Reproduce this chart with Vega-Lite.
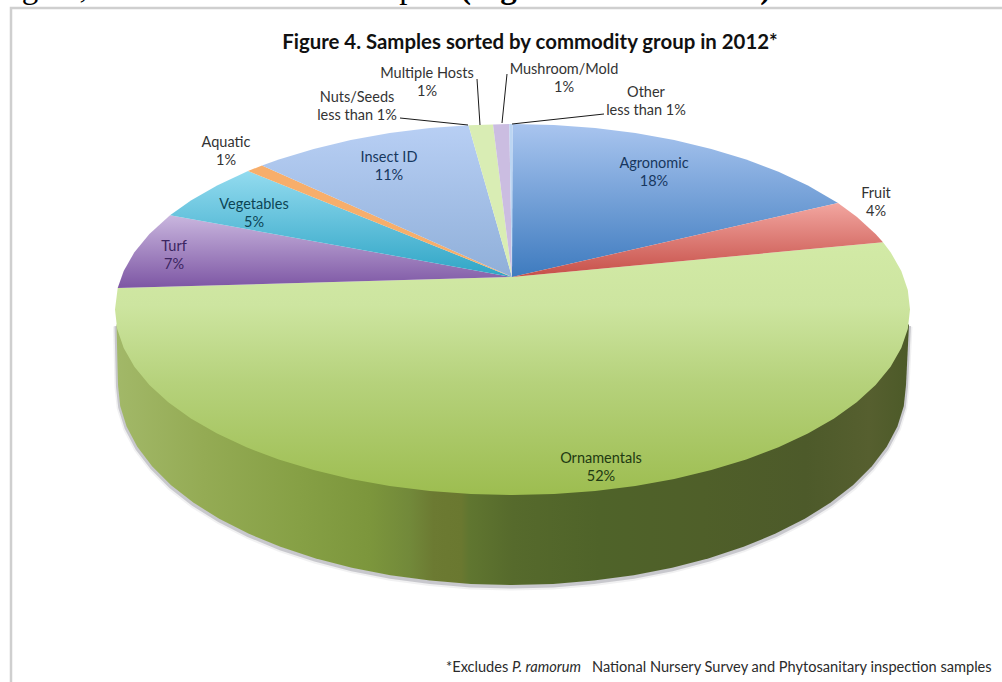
{
"$schema":"https://vega.github.io/schema/vega-lite/v6.json",
"width":1002,"height":682,"padding":0,"autosize":{"type":"none"},
"background":"#ffffff",
"view":{"stroke":null},
"datasets":{
"rim":[
{"i":0,"x":-396,"y":-15},{"i":1,"x":-394.5,"y":-75.5},{"i":2,"x":-392.3,"y":-96.4},{"i":3,"x":-385.9,"y":-117.1},{"i":4,"x":-375.2,"y":-137.3},{"i":5,"x":-360.4,"y":-156.8},{"i":6,"x":-341.7,"y":-175.5},{"i":7,"x":-319.2,"y":-193.1},{"i":8,"x":-293.3,"y":-209.3},{"i":9,"x":-264.1,"y":-224.1},{"i":10,"x":-232.1,"y":-237.3},{"i":11,"x":-197.5,"y":-248.7},{"i":12,"x":-160.7,"y":-258.2},{"i":13,"x":-122.2,"y":-265.7},{"i":14,"x":-82.4,"y":-271.1},{"i":15,"x":-41.7,"y":-274.4},{"i":16,"x":-0.5,"y":-275.5},{"i":17,"x":40.7,"y":-274.4},{"i":18,"x":81.4,"y":-271.1},{"i":19,"x":121.2,"y":-265.7},{"i":20,"x":159.7,"y":-258.2},{"i":21,"x":196.5,"y":-248.7},{"i":22,"x":231.1,"y":-237.3},{"i":23,"x":263.1,"y":-224.1},{"i":24,"x":292.3,"y":-209.3},{"i":25,"x":318.2,"y":-193.1},{"i":26,"x":340.7,"y":-175.5},{"i":27,"x":359.4,"y":-156.8},{"i":28,"x":374.2,"y":-137.3},{"i":29,"x":384.9,"y":-117.1},{"i":30,"x":391.3,"y":-96.4},{"i":31,"x":393.5,"y":-75.5},{"i":32,"x":396.5,"y":-15}
],
"slices":[
{"slice":"Ornamentals","i":0,"x":-0.5,"y":32.5},{"slice":"Ornamentals","i":1,"x":-394.8,"y":21.5},{"slice":"Ornamentals","i":2,"x":-397.5,"y":0},{"slice":"Ornamentals","i":3,"x":-395.3,"y":-19.4},{"slice":"Ornamentals","i":4,"x":-388.8,"y":-38.6},{"slice":"Ornamentals","i":5,"x":-378.1,"y":-57.3},{"slice":"Ornamentals","i":6,"x":-363.1,"y":-75.4},{"slice":"Ornamentals","i":7,"x":-344.2,"y":-92.7},{"slice":"Ornamentals","i":8,"x":-321.6,"y":-109},{"slice":"Ornamentals","i":9,"x":-295.4,"y":-124.1},{"slice":"Ornamentals","i":10,"x":-266,"y":-137.8},{"slice":"Ornamentals","i":11,"x":-233.7,"y":-150.1},{"slice":"Ornamentals","i":12,"x":-198.8,"y":-160.6},{"slice":"Ornamentals","i":13,"x":-161.7,"y":-169.5},{"slice":"Ornamentals","i":14,"x":-122.8,"y":-176.4},{"slice":"Ornamentals","i":15,"x":-82.6,"y":-181.4},{"slice":"Ornamentals","i":16,"x":-41.5,"y":-184.5},{"slice":"Ornamentals","i":17,"x":0,"y":-185.5},{"slice":"Ornamentals","i":18,"x":41.5,"y":-184.5},{"slice":"Ornamentals","i":19,"x":82.6,"y":-181.4},{"slice":"Ornamentals","i":20,"x":122.8,"y":-176.4},{"slice":"Ornamentals","i":21,"x":161.7,"y":-169.5},{"slice":"Ornamentals","i":22,"x":198.8,"y":-160.6},{"slice":"Ornamentals","i":23,"x":233.7,"y":-150.1},{"slice":"Ornamentals","i":24,"x":266,"y":-137.8},{"slice":"Ornamentals","i":25,"x":295.4,"y":-124.1},{"slice":"Ornamentals","i":26,"x":321.6,"y":-109},{"slice":"Ornamentals","i":27,"x":344.2,"y":-92.7},{"slice":"Ornamentals","i":28,"x":363.1,"y":-75.4},{"slice":"Ornamentals","i":29,"x":378.1,"y":-57.3},{"slice":"Ornamentals","i":30,"x":388.8,"y":-38.6},{"slice":"Ornamentals","i":31,"x":395.3,"y":-19.4},{"slice":"Ornamentals","i":32,"x":397.5,"y":0},{"slice":"Ornamentals","i":33,"x":395.3,"y":19.4},{"slice":"Ornamentals","i":34,"x":388.8,"y":38.6},{"slice":"Ornamentals","i":35,"x":378.1,"y":57.3},{"slice":"Ornamentals","i":36,"x":370.5,"y":67.2},{"slice":"Ornamentals","i":37,"x":-0.5,"y":32.5},
{"slice":"Agronomic","i":0,"x":-0.5,"y":32.5},{"slice":"Agronomic","i":1,"x":325.5,"y":106.5},{"slice":"Agronomic","i":2,"x":295.4,"y":124.1},{"slice":"Agronomic","i":3,"x":266,"y":137.8},{"slice":"Agronomic","i":4,"x":233.7,"y":150.1},{"slice":"Agronomic","i":5,"x":198.8,"y":160.6},{"slice":"Agronomic","i":6,"x":161.7,"y":169.5},{"slice":"Agronomic","i":7,"x":122.8,"y":176.4},{"slice":"Agronomic","i":8,"x":82.6,"y":181.4},{"slice":"Agronomic","i":9,"x":41.5,"y":184.5},{"slice":"Agronomic","i":10,"x":0,"y":185.5},{"slice":"Agronomic","i":11,"x":-0.5,"y":32.5},
{"slice":"Fruit","i":0,"x":-0.5,"y":32.5},{"slice":"Fruit","i":1,"x":370.5,"y":67.2},{"slice":"Fruit","i":2,"x":363.1,"y":75.4},{"slice":"Fruit","i":3,"x":344.2,"y":92.7},{"slice":"Fruit","i":4,"x":325.5,"y":106.5},{"slice":"Fruit","i":5,"x":-0.5,"y":32.5},
{"slice":"Other","i":0,"x":-0.5,"y":32.5},{"slice":"Other","i":1,"x":0,"y":185.5},{"slice":"Other","i":2,"x":-3.2,"y":185.5},{"slice":"Other","i":3,"x":-0.5,"y":32.5},
{"slice":"Mushroom/Mold","i":0,"x":-0.5,"y":32.5},{"slice":"Mushroom/Mold","i":1,"x":-3.2,"y":185.5},{"slice":"Mushroom/Mold","i":2,"x":-19.5,"y":185},{"slice":"Mushroom/Mold","i":3,"x":-0.5,"y":32.5},
{"slice":"Multiple Hosts","i":0,"x":-0.5,"y":32.5},{"slice":"Multiple Hosts","i":1,"x":-19.5,"y":185},{"slice":"Multiple Hosts","i":2,"x":-44,"y":184.3},{"slice":"Multiple Hosts","i":3,"x":-0.5,"y":32.5},
{"slice":"Insect ID","i":0,"x":-0.5,"y":32.5},{"slice":"Insect ID","i":1,"x":-44,"y":184.3},{"slice":"Insect ID","i":2,"x":-82.6,"y":181.4},{"slice":"Insect ID","i":3,"x":-122.8,"y":176.4},{"slice":"Insect ID","i":4,"x":-161.7,"y":169.5},{"slice":"Insect ID","i":5,"x":-198.8,"y":160.6},{"slice":"Insect ID","i":6,"x":-233.7,"y":150.1},{"slice":"Insect ID","i":7,"x":-250.5,"y":144},{"slice":"Insect ID","i":8,"x":-0.5,"y":32.5},
{"slice":"Aquatic","i":0,"x":-0.5,"y":32.5},{"slice":"Aquatic","i":1,"x":-250.5,"y":144},{"slice":"Aquatic","i":2,"x":-264.5,"y":138.5},{"slice":"Aquatic","i":3,"x":-0.5,"y":32.5},
{"slice":"Vegetables","i":0,"x":-0.5,"y":32.5},{"slice":"Vegetables","i":1,"x":-264.5,"y":138.5},{"slice":"Vegetables","i":2,"x":-295.4,"y":124.1},{"slice":"Vegetables","i":3,"x":-321.6,"y":109},{"slice":"Vegetables","i":4,"x":-342.5,"y":94.2},{"slice":"Vegetables","i":5,"x":-0.5,"y":32.5},
{"slice":"Turf","i":0,"x":-0.5,"y":32.5},{"slice":"Turf","i":1,"x":-342.5,"y":94.2},{"slice":"Turf","i":2,"x":-363.1,"y":75.4},{"slice":"Turf","i":3,"x":-378.1,"y":57.3},{"slice":"Turf","i":4,"x":-388.8,"y":38.6},{"slice":"Turf","i":5,"x":-394.8,"y":21.5},{"slice":"Turf","i":6,"x":-0.5,"y":32.5}
],
"leaders":[
{"leader":"Nuts/Seeds","i":0,"x":-112.5,"y":191.5},{"leader":"Nuts/Seeds","i":1,"x":-44.5,"y":184.5},
{"leader":"Multiple Hosts","i":0,"x":-35.5,"y":230.5},{"leader":"Multiple Hosts","i":1,"x":-32.5,"y":184.5},
{"leader":"Mushroom/Mold","i":0,"x":-5.5,"y":235.5},{"leader":"Mushroom/Mold","i":1,"x":-10.5,"y":186.5},
{"leader":"Other","i":0,"x":91.5,"y":195.5},{"leader":"Other","i":1,"x":-0.5,"y":185.5}
],
"frame":[
{"i":0,"x":-501.5,"y":-372.5},{"i":1,"x":-501.5,"y":301.5},{"i":2,"x":489.5,"y":301.5}
],
"labels":[
{"name":"Agronomic","text":"Agronomic\n18%","x":141.5,"y":146},
{"name":"Fruit","text":"Fruit\n4%","x":363.5,"y":116},
{"name":"Ornamentals","text":"Ornamentals\n52%","x":88.5,"y":-149},
{"name":"Turf","text":"Turf\n7%","x":-338.5,"y":62.5},
{"name":"Vegetables","text":"Vegetables\n5%","x":-258.5,"y":105},
{"name":"Aquatic","text":"Aquatic\n1%","x":-286.5,"y":167},
{"name":"Insect ID","text":"Insect ID\n11%","x":-123.5,"y":152},
{"name":"Nuts/Seeds","text":"Nuts/Seeds\nless than 1%","x":-155.5,"y":212},
{"name":"Multiple Hosts","text":"Multiple Hosts\n1%","x":-85.5,"y":235.5},
{"name":"Mushroom/Mold","text":"Mushroom/Mold\n1%","x":51.5,"y":240},
{"name":"Other","text":"Other\nless than 1%","x":133.5,"y":217}
]
},
"encoding":{
"x":{"field":"x","type":"quantitative","axis":null,"scale":{"domain":[-512.5,489.5],"nice":false,"zero":false}},
"y":{"field":"y","type":"quantitative","axis":null,"scale":{"domain":[-372.5,309.5],"nice":false,"zero":false}}
},
"layer":[
{"data":{"name":"frame"},"mark":{"type":"line","stroke":"#cfcfcf","strokeWidth":2.5,"fill":null},"encoding":{"order":{"field":"i"}}},
{"data":{"name":"rim"},"mark":{"type":"line","stroke":"#8c8c96","strokeWidth":7,"strokeOpacity":0.12,"fill":null,"yOffset":2},"encoding":{"order":{"field":"i"}}},
{"data":{"name":"rim"},"mark":{"type":"line","stroke":"#8c8c96","strokeWidth":4,"strokeOpacity":0.4,"fill":null,"yOffset":1.5},"encoding":{"order":{"field":"i"}}},
{"data":{"name":"rim"},"mark":{"type":"line","strokeWidth":0,"stroke":null,"fill":{"gradient":"linear","x1":0,"y1":0,"x2":1,"y2":0,"stops":[{"offset":0,"color":"#a2b868"},{"offset":0.11,"color":"#94ab54"},{"offset":0.23,"color":"#86a045"},{"offset":0.32,"color":"#7c963c"},{"offset":0.37,"color":"#72893a"},{"offset":0.4,"color":"#6c7a32"},{"offset":0.435,"color":"#6a7830"},{"offset":0.445,"color":"#607630"},{"offset":0.5,"color":"#566a2c"},{"offset":0.61,"color":"#4f6329"},{"offset":0.74,"color":"#4f5f29"},{"offset":0.87,"color":"#4d5a2a"},{"offset":0.95,"color":"#565f2f"},{"offset":1,"color":"#4c5a28"}]}},"encoding":{"order":{"field":"i"}}},
{"data":{"name":"slices"},"transform":[{"filter":"datum.slice==='Ornamentals'"}],"mark":{"type":"line","strokeWidth":0,"stroke":null,"fill":{"gradient":"linear","x1":0,"y1":0,"x2":0,"y2":1,"stops":[{"offset":0,"color":"#d2eaa6"},{"offset":0.25,"color":"#cde5a0"},{"offset":0.55,"color":"#b6d27c"},{"offset":1,"color":"#9dbd50"}]}},"encoding":{"order":{"field":"i"}}},
{"data":{"name":"slices"},"transform":[{"filter":"datum.slice==='Agronomic'"}],"mark":{"type":"line","strokeWidth":0,"stroke":null,"fill":{"gradient":"linear","x1":0,"y1":0,"x2":0,"y2":1,"stops":[{"offset":0,"color":"#a9c5ef"},{"offset":1,"color":"#3e7bbf"}]}},"encoding":{"order":{"field":"i"}}},
{"data":{"name":"slices"},"transform":[{"filter":"datum.slice==='Fruit'"}],"mark":{"type":"line","strokeWidth":0,"stroke":null,"fill":{"gradient":"linear","x1":0,"y1":0,"x2":0,"y2":1,"stops":[{"offset":0,"color":"#f2a6a0"},{"offset":1,"color":"#c64f48"}]}},"encoding":{"order":{"field":"i"}}},
{"data":{"name":"slices"},"transform":[{"filter":"datum.slice==='Turf'"}],"mark":{"type":"line","strokeWidth":0,"stroke":null,"fill":{"gradient":"linear","x1":0,"y1":0,"x2":0,"y2":1,"stops":[{"offset":0,"color":"#c9b6de"},{"offset":1,"color":"#7d56a4"}]}},"encoding":{"order":{"field":"i"}}},
{"data":{"name":"slices"},"transform":[{"filter":"datum.slice==='Vegetables'"}],"mark":{"type":"line","strokeWidth":0,"stroke":null,"fill":{"gradient":"linear","x1":0,"y1":0,"x2":0,"y2":1,"stops":[{"offset":0,"color":"#93dbef"},{"offset":1,"color":"#2fa5c6"}]}},"encoding":{"order":{"field":"i"}}},
{"data":{"name":"slices"},"transform":[{"filter":"datum.slice==='Aquatic'"}],"mark":{"type":"line","strokeWidth":0,"stroke":null,"fill":"#f7ae6b"},"encoding":{"order":{"field":"i"}}},
{"data":{"name":"slices"},"transform":[{"filter":"datum.slice==='Insect ID'"}],"mark":{"type":"line","strokeWidth":0,"stroke":null,"fill":{"gradient":"linear","x1":0,"y1":0,"x2":0,"y2":1,"stops":[{"offset":0,"color":"#b8cff4"},{"offset":1,"color":"#8fafd9"}]}},"encoding":{"order":{"field":"i"}}},
{"data":{"name":"slices"},"transform":[{"filter":"datum.slice==='Multiple Hosts'"}],"mark":{"type":"line","strokeWidth":0,"stroke":null,"fill":"#d9edb4"},"encoding":{"order":{"field":"i"}}},
{"data":{"name":"slices"},"transform":[{"filter":"datum.slice==='Mushroom/Mold'"}],"mark":{"type":"line","strokeWidth":0,"stroke":null,"fill":"#cbbde1"},"encoding":{"order":{"field":"i"}}},
{"data":{"name":"slices"},"transform":[{"filter":"datum.slice==='Other'"}],"mark":{"type":"line","strokeWidth":0,"stroke":null,"fill":"#bcd6f3"},"encoding":{"order":{"field":"i"}}},
{"data":{"name":"leaders"},"mark":{"type":"line","stroke":"#1a1a1a","strokeWidth":1,"fill":null},"encoding":{"detail":{"field":"leader"},"order":{"field":"i"}}},
{"data":{"name":"labels"},"mark":{"type":"text","font":"Lato","fontSize":14.5,"lineBreak":"\n","lineHeight":18.3,"align":"center","baseline":"middle"},"encoding":{"text":{"field":"text"},"color":{"field":"name","legend":null,"scale":{"domain":["Agronomic","Fruit","Ornamentals","Turf","Vegetables","Aquatic","Insect ID","Nuts/Seeds","Multiple Hosts","Mushroom/Mold","Other"],"range":["#17375e","#333333","#1f3a12","#3b2560","#0c4454","#333333","#17375e","#333333","#333333","#333333","#333333"]}}}},
{"data":{"values":[{"text":"Figure 4. Samples sorted by commodity group in 2012*","x":17.5,"y":266.5}]},"mark":{"type":"text","font":"Lato","fontSize":20.4,"fontWeight":"bold","color":"#111111","align":"center","baseline":"middle"},"encoding":{"text":{"field":"text"}}},
{"data":{"values":[{"text":"*Excludes","x":-66.5,"y":-358.5},{"text":"National Nursery Survey and Phytosanitary inspection samples","x":79.5,"y":-358.5}]},"mark":{"type":"text","font":"Lato","fontSize":14.6,"color":"#2b2b2b","align":"left","baseline":"middle"},"encoding":{"text":{"field":"text"}}},
{"data":{"values":[{"text":"P. ramorum","x":-0.5,"y":-358.5}]},"mark":{"type":"text","font":"Lato","fontSize":14.6,"fontStyle":"italic","color":"#2b2b2b","align":"left","baseline":"middle"},"encoding":{"text":{"field":"text"}}},
{"data":{"values":[{"text":"g 16,% of the submitted samples","x":-60,"y":312}]},"mark":{"type":"text","font":"Liberation Serif","fontSize":33,"color":"#000000","align":"right","baseline":"alphabetic"},"encoding":{"text":{"field":"text"}}},
{"data":{"values":[{"text":"(Figure 4 and Table 3)","x":-52.5,"y":312}]},"mark":{"type":"text","font":"Liberation Serif","fontSize":33,"fontWeight":"bold","color":"#000000","align":"left","baseline":"alphabetic"},"encoding":{"text":{"field":"text"}}}
]
}
